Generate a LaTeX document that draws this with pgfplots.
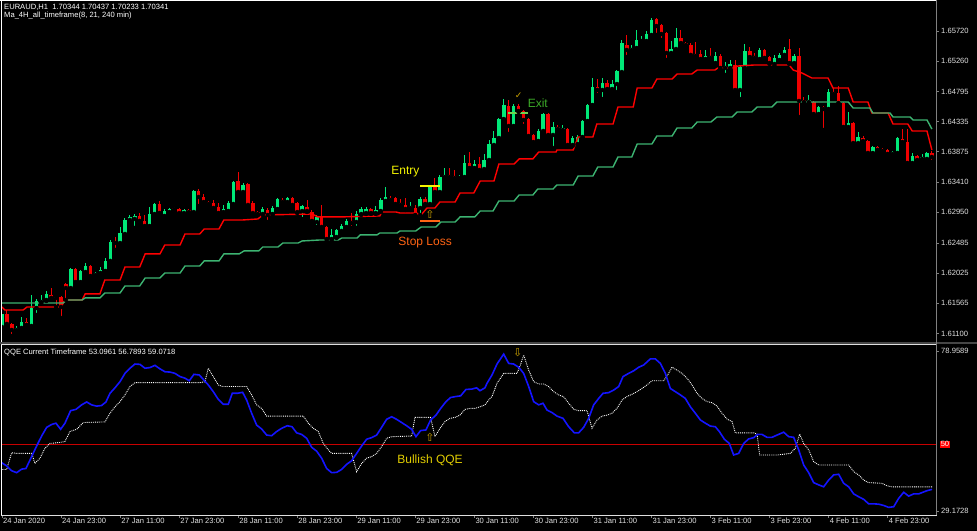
\documentclass[border=0pt]{standalone}
\usepackage{pgfplots}
\pgfplotsset{compat=1.18}
\usepackage{pgfplotstable}
\usepackage{fontspec}
\setmainfont{Liberation Sans}
\newfontfamily\dejavu{DejaVu Sans}
\definecolor{bullc}{RGB}{0,232,120}
\definecolor{bearc}{RGB}{240,0,0}
\definecolor{ma8}{RGB}{255,0,0}
\definecolor{ma21}{RGB}{60,179,113}
\definecolor{qqeblue}{RGB}{20,20,255}
\definecolor{lvl}{RGB}{200,0,0}
\definecolor{lbl}{RGB}{225,225,225}
\definecolor{entryc}{RGB}{245,245,0}
\definecolor{slc}{RGB}{255,100,20}
\definecolor{exitc}{RGB}{60,170,40}
\definecolor{exitl}{RGB}{110,210,80}
\definecolor{arrowc}{RGB}{200,160,0}
\definecolor{bullqqe}{RGB}{225,205,0}
\newcommand\tf{\fontsize{7.6bp}{9bp}\selectfont}
\newcommand\af{\fontsize{12bp}{14bp}\selectfont}

\pgfplotstableread{
i o h l c
0 1.61200 1.61428 1.61139 1.61398
3 1.61154 1.61215 1.61123 1.61185
4 1.61185 1.61352 1.61154 1.61276
6 1.61215 1.61689 1.61200 1.61490
7 1.61490 1.61628 1.61383 1.61597
8 1.61581 1.61689 1.61566 1.61612
9 1.61612 1.61750 1.61597 1.61704
14 1.61795 1.62101 1.61765 1.62086
16 1.61886 1.62070 1.61871 1.62055
17 1.62039 1.62177 1.62024 1.62131
19 1.61994 1.62039 1.61978 1.62024
20 1.62024 1.62116 1.62009 1.62070
21 1.62055 1.62254 1.62039 1.62208
22 1.62208 1.62528 1.62192 1.62497
24 1.62482 1.62727 1.62467 1.62635
25 1.62620 1.62864 1.62605 1.62834
26 1.62834 1.62910 1.62803 1.62880
27 1.62849 1.62925 1.62712 1.62895
30 1.62742 1.63032 1.62727 1.62925
31 1.62925 1.63093 1.62910 1.63078
33 1.62895 1.63001 1.62880 1.62971
34 1.62955 1.63017 1.62910 1.63001
37 1.62940 1.63001 1.62925 1.62986
39 1.62955 1.63292 1.62940 1.63277
45 1.62955 1.63063 1.62940 1.63001
46 1.62971 1.63124 1.62955 1.63093
47 1.63078 1.63429 1.63063 1.63413
49 1.63261 1.63398 1.63246 1.63368
53 1.62925 1.63032 1.62910 1.63001
55 1.62925 1.63047 1.62910 1.63017
56 1.63001 1.63169 1.62986 1.63154
58 1.63108 1.63185 1.63093 1.63169
61 1.62971 1.63063 1.62849 1.63047
64 1.62803 1.62910 1.62727 1.62880
67 1.62543 1.62696 1.62528 1.62605
68 1.62574 1.62696 1.62559 1.62681
69 1.62666 1.62773 1.62650 1.62742
70 1.62727 1.62849 1.62712 1.62819
72 1.62803 1.62971 1.62712 1.62925
73 1.62925 1.63032 1.62910 1.63001
74 1.62940 1.63032 1.62925 1.63001
76 1.62940 1.63047 1.62925 1.62986
77 1.62971 1.63169 1.62955 1.63139
78 1.63124 1.63337 1.63108 1.63185
83 1.63017 1.63108 1.62986 1.63047
85 1.63017 1.63185 1.62910 1.63154
87 1.63078 1.63352 1.63063 1.63337
89 1.63261 1.63520 1.63246 1.63490
90 1.63490 1.63628 1.63474 1.63520
93 1.63474 1.63520 1.63444 1.63490
94 1.63490 1.63827 1.63474 1.63704
96 1.63628 1.63750 1.63612 1.63689
98 1.63612 1.63842 1.63582 1.63750
99 1.63750 1.64055 1.63735 1.63994
100 1.63979 1.64193 1.63964 1.64086
101 1.64086 1.64392 1.64071 1.64376
102 1.64376 1.64681 1.64361 1.64590
104 1.64269 1.64605 1.64254 1.64574
109 1.64040 1.64223 1.64024 1.64193
110 1.64193 1.64467 1.64177 1.64452
112 1.64132 1.64330 1.63933 1.64254
114 1.64208 1.64284 1.64193 1.64238
116 1.63979 1.64116 1.63964 1.64086
117 1.63994 1.64132 1.63979 1.64101
118 1.64101 1.64361 1.64086 1.64345
119 1.64345 1.64605 1.64330 1.64590
120 1.64590 1.65001 1.64574 1.64864
122 1.64819 1.65001 1.64681 1.64925
124 1.64834 1.64971 1.64819 1.64910
125 1.64910 1.65124 1.64788 1.65109
126 1.65093 1.65582 1.65078 1.65536
128 1.65430 1.65506 1.65415 1.65460
129 1.65460 1.65735 1.65445 1.65582
130 1.65567 1.65643 1.65551 1.65582
131 1.65567 1.65720 1.65551 1.65674
132 1.65659 1.65918 1.65643 1.65888
136 1.65384 1.65567 1.65369 1.65445
137 1.65445 1.65766 1.65430 1.65613
143 1.65292 1.65430 1.65277 1.65338
145 1.65231 1.65399 1.65216 1.65338
147 1.65155 1.65247 1.65048 1.65185
148 1.65155 1.65277 1.65140 1.65216
150 1.64819 1.65185 1.64681 1.65170
151 1.65155 1.65521 1.65140 1.65415
154 1.65292 1.65460 1.65277 1.65430
157 1.65216 1.65354 1.65185 1.65308
158 1.65277 1.65384 1.65262 1.65354
159 1.65354 1.65475 1.65338 1.65430
161 1.65231 1.65369 1.65216 1.65338
164 1.64635 1.64742 1.64620 1.64666
166 1.64452 1.64574 1.64437 1.64559
168 1.64529 1.64834 1.64513 1.64788
172 1.64254 1.64482 1.64238 1.64315
174 1.64009 1.64177 1.63994 1.64101
177 1.63857 1.63964 1.63842 1.63948
181 1.63842 1.63888 1.63827 1.63872
182 1.63857 1.64101 1.63842 1.64086
185 1.63704 1.63857 1.63689 1.63811
187 1.63766 1.63842 1.63750 1.63796
188 1.63766 1.63872 1.63750 1.63857
}\bull

\pgfplotstableread{
i o h l c
1 1.61398 1.61459 1.61215 1.61246
2 1.61246 1.61261 1.61062 1.61154
5 1.61276 1.61337 1.61170 1.61231
10 1.61689 1.61795 1.61628 1.61643
11 1.61658 1.61673 1.61505 1.61643
12 1.61658 1.61673 1.61337 1.61505
13 1.61856 1.61871 1.61612 1.61795
15 1.62086 1.62101 1.61856 1.61886
18 1.62131 1.62147 1.61963 1.61978
23 1.62497 1.62574 1.62376 1.62482
28 1.62895 1.62940 1.62803 1.62819
29 1.62819 1.62910 1.62727 1.62742
32 1.63078 1.63124 1.62925 1.62940
35 1.63017 1.63032 1.62971 1.63001
36 1.63001 1.63017 1.62925 1.62940
38 1.62986 1.63001 1.62940 1.62955
40 1.63277 1.63307 1.63047 1.63185
41 1.63185 1.63231 1.63078 1.63108
42 1.63108 1.63124 1.63063 1.63078
43 1.63093 1.63139 1.62986 1.63017
44 1.63032 1.63093 1.62925 1.62940
48 1.63429 1.63566 1.63246 1.63261
50 1.63383 1.63398 1.63047 1.63063
51 1.63093 1.63124 1.62910 1.62940
52 1.62955 1.62971 1.62910 1.62925
54 1.62986 1.63017 1.62803 1.62910
57 1.63139 1.63169 1.63093 1.63108
59 1.63169 1.63185 1.63047 1.63063
60 1.63093 1.63108 1.62940 1.62955
62 1.63032 1.63139 1.62955 1.62971
63 1.62955 1.62986 1.62803 1.62819
65 1.62880 1.63063 1.62712 1.62727
66 1.62727 1.62742 1.62528 1.62543
71 1.62819 1.62940 1.62712 1.62788
75 1.63001 1.63017 1.62925 1.62940
79 1.63169 1.63200 1.63124 1.63139
80 1.63169 1.63185 1.63063 1.63078
81 1.63093 1.63154 1.63047 1.63063
82 1.63063 1.63169 1.62986 1.63001
84 1.63017 1.63063 1.62895 1.62910
86 1.63154 1.63185 1.63063 1.63078
88 1.63337 1.63474 1.63246 1.63261
91 1.63520 1.63628 1.63474 1.63490
92 1.63505 1.63597 1.63459 1.63474
95 1.63704 1.63872 1.63597 1.63628
97 1.63689 1.63796 1.63582 1.63597
103 1.64574 1.64666 1.64147 1.64269
105 1.64574 1.64605 1.64482 1.64498
106 1.64498 1.64513 1.64269 1.64361
107 1.64376 1.64392 1.64101 1.64116
108 1.64132 1.64147 1.64009 1.64024
111 1.64452 1.64467 1.64116 1.64132
113 1.64254 1.64284 1.64208 1.64223
115 1.64223 1.64238 1.63964 1.63979
121 1.64864 1.64986 1.64742 1.64819
123 1.64925 1.64971 1.64819 1.64834
127 1.65506 1.65659 1.65323 1.65430
133 1.65903 1.65918 1.65659 1.65796
134 1.65811 1.65827 1.65582 1.65674
135 1.65689 1.65704 1.65277 1.65384
138 1.65613 1.65735 1.65521 1.65536
139 1.65536 1.65551 1.65490 1.65506
140 1.65506 1.65536 1.65338 1.65354
141 1.65369 1.65551 1.65308 1.65338
142 1.65369 1.65430 1.65277 1.65292
144 1.65338 1.65460 1.65277 1.65308
146 1.65338 1.65369 1.65140 1.65155
149 1.65201 1.65277 1.64773 1.64819
152 1.65415 1.65475 1.65308 1.65323
153 1.65338 1.65384 1.65292 1.65308
155 1.65430 1.65445 1.65292 1.65308
156 1.65323 1.65338 1.65216 1.65231
160 1.65445 1.65597 1.65216 1.65231
162 1.65338 1.65460 1.64406 1.64651
163 1.64666 1.64712 1.64620 1.64635
165 1.64635 1.64651 1.64421 1.64452
167 1.64559 1.64574 1.64208 1.64529
169 1.64788 1.64849 1.64742 1.64758
170 1.64773 1.64880 1.64605 1.64620
171 1.64620 1.64635 1.64238 1.64254
173 1.64315 1.64330 1.63994 1.64009
175 1.64086 1.64116 1.64024 1.64040
176 1.64040 1.64055 1.63842 1.63857
178 1.63948 1.63964 1.63888 1.63903
179 1.63918 1.63933 1.63872 1.63888
180 1.63903 1.63918 1.63811 1.63842
183 1.64071 1.64223 1.64009 1.64024
184 1.64024 1.64223 1.63689 1.63704
186 1.63811 1.63827 1.63735 1.63750
189 1.63857 1.63888 1.63720 1.63796
}\bear

\pgfplotsset{
  wick/.style={only marks, mark=none, forget plot,
    error bars/.cd, y dir=plus, y explicit, error mark=none,
    error bar style={line width=1bp, draw=#1}},
  body/.style={only marks, mark=none, forget plot,
    error bars/.cd, y dir=plus, y explicit, error mark=none,
    error bar style={line width=3.4bp, draw=#1}},
}

\begin{document}
\begin{tikzpicture}[x=1bp,y=1bp]
\fill[black] (0,0) rectangle (977,531);

% ---------------- main price panel
\begin{axis}[
  at={(1bp,188bp)}, anchor=south west, scale only axis,
  width=935bp, height=342bp,
  xmin=-0.2, xmax=189.84, ymin=1.60955, ymax=1.66178,
  axis line style={draw=none},
  xtick=\empty, scaled y ticks=false,
  ytick={1.65720,1.65260,1.64795,1.64335,1.63875,1.63410,1.62950,1.62485,1.62025,1.61565,1.61100},
  yticklabels={1.65720,1.65260,1.64795,1.64335,1.63875,1.63410,1.62950,1.62485,1.62025,1.61565,1.61100},
  ytick pos=right, yticklabel pos=right, tick align=outside,
  major tick length=3bp, tick style={draw=gray, line width=0.6bp},
  yticklabel style={font=\tf, text=lbl, anchor=west, inner sep=0pt, xshift=2bp},
]
\addplot[wick=bullc] table[x=i, y=l, y error expr=\thisrow{h}-\thisrow{l}] {\bull};
\addplot[wick=bearc] table[x=i, y=l, y error expr=\thisrow{h}-\thisrow{l}] {\bear};
\addplot[body=bullc] table[x=i, y=o, y error expr=\thisrow{c}-\thisrow{o}] {\bull};
\addplot[body=bearc] table[x=i, y=c, y error expr=\thisrow{o}-\thisrow{c}] {\bear};

% MA 8 (red step line)
\addplot[ma8, line width=1.4bp] coordinates {
(0,1.61505) (0.6,1.61459) (4.3,1.61459) (5.1,1.61505) (12.0,1.61505) (12.8,1.61612)
(16.3,1.61612) (16.9,1.61704) (19.9,1.61704) (20.9,1.61917) (24.0,1.61917) (25.0,1.62116)
(28.0,1.62116) (29.1,1.62315) (32.1,1.62315) (33.1,1.62452) (36.2,1.62452) (37.2,1.62620)
(40.2,1.62620) (41.1,1.62696) (44.1,1.62696) (45.1,1.62834) (49.0,1.62834) (52.0,1.62849)
(53.0,1.62910) (63.0,1.62925) (64.2,1.62880) (68.7,1.62880) (76.8,1.62895) (77.2,1.62955)
(80.1,1.62955) (80.9,1.62940) (84.3,1.62940) (85.0,1.62895) (86.4,1.63017) (88.0,1.63017)
(89.0,1.63108) (92.1,1.63108) (93.1,1.63246) (95.9,1.63246) (97.2,1.63429) (100.0,1.63429)
(101.0,1.63689) (104.1,1.63689) (105.1,1.63766) (107.9,1.63766) (109.1,1.63872) (112.6,1.63872)
(112.8,1.63903) (116.1,1.63903) (117.1,1.64101) (120.1,1.64101) (120.9,1.64300) (124.2,1.64300)
(125.2,1.64559) (128.3,1.64559) (129.1,1.64849) (132.1,1.64849) (133.1,1.64986) (136.2,1.64986)
(137.2,1.65063) (140.2,1.65063) (141.3,1.65124) (144.9,1.65124) (145.5,1.65155) (148.6,1.65155)
(149.6,1.65185) (153.0,1.65201) (160.0,1.65201) (160.8,1.65124) (162.6,1.65078) (164.6,1.65002)
(167.9,1.65002) (168.9,1.64849) (172.0,1.64849) (173.0,1.64635) (176.0,1.64635) (176.8,1.64467)
(180.1,1.64467) (181.1,1.64300) (184.1,1.64300) (185.0,1.64193) (188.0,1.64193) (189.0,1.63903)
};
% MA 21 (green step line)
\addplot[ma21, line width=1.4bp] coordinates {
(0,1.61566) (12.4,1.61566) (13.2,1.61612) (16.3,1.61612) (16.9,1.61643) (19.9,1.61643)
(20.9,1.61719) (24.0,1.61719) (25.0,1.61826) (28.0,1.61826) (29.1,1.61948) (32.1,1.61948)
(33.1,1.62024) (36.2,1.62024) (37.2,1.62131) (40.2,1.62131) (41.1,1.62208) (44.1,1.62208)
(45.1,1.62315) (48.2,1.62315) (49.2,1.62361) (52.2,1.62361) (53.0,1.62421) (56.1,1.62421)
(57.1,1.62482) (60.2,1.62482) (61.0,1.62513) (64.6,1.62528) (68.3,1.62528) (69.1,1.62559)
(72.2,1.62559) (72.8,1.62605) (76.2,1.62605) (76.8,1.62635) (80.3,1.62635) (80.9,1.62666)
(84.1,1.62666) (85.2,1.62727) (88.2,1.62727) (89.2,1.62803) (92.1,1.62803) (93.1,1.62880)
(96.1,1.62880) (97.2,1.62971) (99.8,1.62971) (101.0,1.63124) (104.1,1.63124) (105.1,1.63215)
(107.9,1.63215) (108.9,1.63307) (112.0,1.63307) (112.8,1.63368) (116.1,1.63368) (117.1,1.63505)
(120.1,1.63505) (121.1,1.63643) (124.2,1.63643) (125.2,1.63796) (128.0,1.63796) (129.1,1.63994)
(132.1,1.63994) (133.1,1.64116) (136.2,1.64116) (137.2,1.64238) (140.2,1.64238) (141.3,1.64330)
(144.1,1.64330) (145.3,1.64406) (148.4,1.64406) (149.4,1.64482) (152.4,1.64482) (153.5,1.64559)
(156.5,1.64559) (157.5,1.64635) (172.0,1.64635) (173.0,1.64544) (176.4,1.64544) (177.0,1.64467)
(180.5,1.64467) (181.1,1.64406) (184.6,1.64406) (185.2,1.64361) (188.0,1.64361) (189.0,1.64223)
};

% trade annotations
\addplot[entryc, line width=2.5bp] coordinates {(85.0,1.63352) (89.0,1.63352)};
\addplot[slc, line width=2.5bp] coordinates {(85.0,1.62819) (89.0,1.62819)};
\addplot[exitl, line width=2.5bp] coordinates {(102.8,1.64467) (107.0,1.64467)};
\node[text=entryc, font=\af] at (axis cs:82.0,1.63566) {Entry};
\node[text=slc, font=\af] at (axis cs:86.0,1.62482) {Stop Loss};
\node[text=exitc, font=\af] at (axis cs:108.9,1.64620) {Exit};
\node[text=arrowc, font=\dejavu\fontsize{9bp}{10bp}\selectfont] at (axis cs:105.0,1.64727) {✓};
\node[text=arrowc, font=\dejavu\fontsize{11bp}{12bp}\selectfont] at (axis cs:87.0,1.62925) {⇧};
\end{axis}

% ---------------- QQE panel
\begin{axis}[
  at={(1bp,16bp)}, anchor=south west, scale only axis,
  width=935bp, height=170bp,
  xmin=-0.2, xmax=189.84, ymin=27.93, ymax=80.83,
  axis line style={draw=none}, clip=false,
  xtick={0,12,...,180},
  xticklabels={24 Jan 2020,24 Jan 23:00,27 Jan 11:00,27 Jan 23:00,28 Jan 11:00,28 Jan 23:00,29 Jan 11:00,29 Jan 23:00,30 Jan 11:00,30 Jan 23:00,31 Jan 11:00,31 Jan 23:00,3 Feb 11:00,3 Feb 23:00,4 Feb 11:00,4 Feb 23:00},
  xtick pos=bottom, ytick pos=right, yticklabel pos=right,
  ytick={29.1728,78.9589}, yticklabels={29.1728,78.9589},
  tick align=outside, major tick length=3bp, tick style={draw=gray, line width=0.6bp},
  xticklabel style={font=\tf, text=lbl, anchor=north west, inner sep=0pt, xshift=1bp},
  yticklabel style={font=\tf, text=lbl, anchor=west, inner sep=0pt, xshift=2bp},
]
\addplot[lvl, line width=1bp] coordinates {(-0.2,50) (189.84,50)};
\addplot[white, densely dotted, line width=0.9bp] coordinates {
(-0.07,42.1) (0.95,42.1) (1.96,47.3) (2.98,47.1) (6.03,47.1) (6.70,44.0) (7.72,45.6) (8.74,48.7)
(9.75,50.2) (11.78,50.5) (12.80,50.8) (13.82,53.9) (15.17,54.6) (16.53,56.7) (20.93,56.9) (21.95,59.6)
(22.96,61.6) (23.98,63.2) (25.00,65.3) (26.01,67.9) (27.03,69.1) (40.24,69.1) (41.26,69.4) (41.93,73.6)
(42.95,71.0) (43.97,68.4) (44.85,67.9) (49.73,67.9) (50.74,65.3) (51.76,62.2) (52.77,61.1) (53.79,58.7)
(61.24,58.7) (62.26,56.5) (63.28,54.9) (64.29,53.9) (65.31,50.2) (66.32,48.2) (67.00,47.1) (71.07,47.1)
(72.08,41.4) (73.10,44.0) (74.11,45.6) (75.13,46.1) (76.15,47.1) (77.16,49.2) (78.18,51.8) (79.20,52.3)
(83.26,52.5) (83.94,58.3) (87.12,58.3) (88.00,52.3) (89.02,54.9) (90.04,57.0) (91.05,58.0) (92.07,58.3)
(93.09,59.0) (94.10,60.8) (95.12,61.1) (96.14,61.1) (97.15,61.6) (98.17,62.2) (99.18,64.2) (99.60,64.8)
(100.61,68.9) (101.97,72.0) (104.68,72.0) (105.36,74.6) (106.03,77.7) (107.05,73.0) (108.07,69.4) (109.08,68.7)
(110.10,68.7) (111.11,67.9) (112.13,66.3) (113.15,65.3) (114.16,64.7) (115.18,62.7) (116.20,60.8) (117.21,60.4)
(118.91,60.4) (119.92,54.9) (120.94,57.5) (121.95,58.7) (122.97,59.0) (123.99,59.6) (125.00,61.1) (126.02,63.7)
(127.04,64.8) (128.05,65.5) (129.07,66.3) (130.08,67.3) (131.10,68.4) (132.12,69.7) (134.49,69.7) (135.50,72.0)
(136.18,73.9) (137.20,73.0) (138.21,72.0) (139.23,70.5) (140.25,68.4) (141.26,65.8) (142.28,64.2) (143.30,63.2)
(144.31,62.9) (145.33,61.8) (146.34,59.6) (147.36,57.8) (148.38,57.0) (149.05,53.5) (152.78,53.5) (153.46,53.1)
(154.00,46.6) (157.52,46.6) (160.23,47.1) (161.25,48.7) (162.13,53.1) (162.94,50.2) (163.96,48.2) (164.98,44.5)
(166.00,43.5) (172.09,43.5) (173.11,41.4) (174.12,40.4) (175.14,38.8) (176.15,38.0) (178.86,37.8) (179.88,37.0)
(180.89,36.7) (189.03,36.7)
};
\addplot[qqeblue, line width=1.6bp] coordinates {
(-0.07,44.2) (0.95,43.2) (1.96,41.7) (2.98,41.1) (3.99,42.2) (4.87,42.4) (6.03,46.1) (7.04,49.4)
(8.06,52.5) (9.08,55.2) (10.09,56.1) (10.97,56.5) (11.92,54.6) (12.80,56.5) (13.95,60.4) (15.04,60.8)
(16.19,62.2) (17.21,63.1) (18.22,62.2) (19.24,61.8) (20.25,62.0) (21.13,63.1) (21.95,65.8) (22.96,67.5)
(23.98,69.4) (25.00,72.0) (26.01,73.6) (27.03,74.9) (28.05,74.8) (29.06,73.6) (30.08,73.8) (31.09,74.5)
(32.11,73.4) (33.13,72.5) (34.14,72.4) (35.16,72.0) (36.18,71.0) (37.19,70.5) (38.07,69.7) (39.02,71.7)
(40.10,71.5) (41.05,69.9) (41.93,68.4) (42.95,66.3) (43.97,63.9) (44.98,62.4) (46.00,62.4) (46.81,65.8)
(47.83,65.8) (48.91,66.1) (49.73,63.7) (50.74,59.6) (51.76,55.9) (52.77,54.7) (53.79,52.8) (54.81,52.6)
(55.82,53.9) (56.84,54.9) (57.99,55.7) (58.94,55.4) (59.89,53.5) (60.90,53.0) (61.92,51.8) (62.94,49.0)
(63.95,47.8) (64.97,45.6) (65.99,42.4) (67.00,41.1) (68.02,41.2) (69.03,42.1) (70.05,43.7) (71.07,44.8)
(72.08,47.1) (73.10,49.4) (74.11,51.5) (75.13,52.0) (76.15,52.8) (77.16,55.2) (78.18,57.7) (79.20,58.5)
(80.21,57.7) (81.23,56.7) (82.24,55.7) (83.26,54.6) (84.14,52.3) (85.09,54.2) (86.17,54.4) (87.12,57.5)
(88.21,59.0) (89.16,61.1) (90.24,63.2) (91.19,64.5) (92.27,64.8) (93.22,65.0) (94.31,67.0) (95.46,67.1)
(96.47,67.5) (97.15,66.6) (98.17,67.5) (98.58,68.9) (99.60,71.5) (100.61,74.9) (101.97,78.0) (102.98,75.1)
(104.00,74.9) (105.02,73.9) (106.03,72.0) (107.05,67.9) (108.07,63.2) (109.08,62.2) (109.96,62.7) (110.77,60.6)
(111.79,59.8) (112.81,58.7) (114.03,58.0) (115.18,55.4) (116.33,53.5) (117.21,53.5) (118.23,55.2) (119.24,58.0)
(120.26,62.2) (121.28,64.2) (122.16,65.8) (123.31,66.0) (124.33,66.8) (125.34,67.9) (126.22,71.0) (127.37,72.0)
(128.39,72.8) (129.41,73.9) (130.42,74.6) (131.78,76.5) (132.79,76.5) (133.81,75.1) (134.83,72.0) (135.84,67.3)
(136.86,66.3) (137.88,65.3) (138.89,64.2) (139.91,61.6) (140.92,59.6) (141.94,57.5) (142.96,56.5) (143.97,55.6)
(144.99,55.4) (145.80,53.9) (146.82,51.5) (147.83,50.2) (148.71,46.6) (149.73,47.1) (150.75,50.2) (151.76,51.6)
(152.78,52.0) (153.59,53.0) (154.47,53.0) (155.49,52.1) (156.51,52.1) (157.52,52.8) (158.88,53.7) (159.89,52.3)
(160.91,52.1) (161.93,48.2) (162.94,43.5) (163.96,41.1) (164.98,38.0) (165.99,37.3) (167.01,36.7) (168.02,38.8)
(169.04,40.4) (170.06,40.6) (171.07,37.8) (172.09,36.7) (173.11,34.5) (174.12,33.6) (175.14,32.8) (176.15,31.4)
(177.17,31.4) (178.19,31.3) (179.20,30.9) (180.22,30.3) (181.24,30.5) (182.25,33.1) (183.27,35.0) (184.28,33.8)
(185.30,34.5) (186.32,34.5) (188.01,35.5) (189.03,35.9)
};
\node[text=bullqqe, font=\af] at (axis cs:87.0,44.89) {Bullish QQE};
\node[text=arrowc, font=\dejavu\fontsize{11bp}{12bp}\selectfont] at (axis cs:87.0,52.05) {⇧};
\node[text=arrowc, font=\dejavu\fontsize{11bp}{12bp}\selectfont] at (axis cs:104.8,78.4) {⇩};
\node[fill=red, text=white, font=\tf, inner sep=0.8bp, anchor=west] at (axis cs:190.6,50) {50};
\end{axis}

% ---------------- frames and captions
\fill[gray!55!black] (0,186.5) rectangle (977,189);
\draw[white, line width=1bp] (0,530.5) -- (936.5,530.5);
\draw[white, line width=1bp] (1,531) -- (1,189);
\draw[white, line width=1bp] (1,186) -- (1,16);
\draw[white!75!gray, line width=1bp] (1,186) -- (936.5,186);
\draw[white!75!gray, line width=1bp] (1,15.5) -- (936.5,15.5);
\draw[gray, line width=1bp] (936.5,531) -- (936.5,15.5);

\node[anchor=west, text=white, font=\tf, inner sep=0pt] at (4,524) {EURAUD,H1\ \ 1.70344 1.70437 1.70233 1.70341};
\node[anchor=west, text=white, font=\tf, inner sep=0pt] at (4,515.5) {Ma\_4H\_all\_timeframe(8, 21, 240 min)};
\node[anchor=west, text=white, font=\tf, inner sep=0pt] at (4,179) {QQE Current Timeframe 53.0961 56.7893 59.0718};

\pgfresetboundingbox
\path[use as bounding box] (0,0) rectangle (977,531);
\end{tikzpicture}
\end{document}
